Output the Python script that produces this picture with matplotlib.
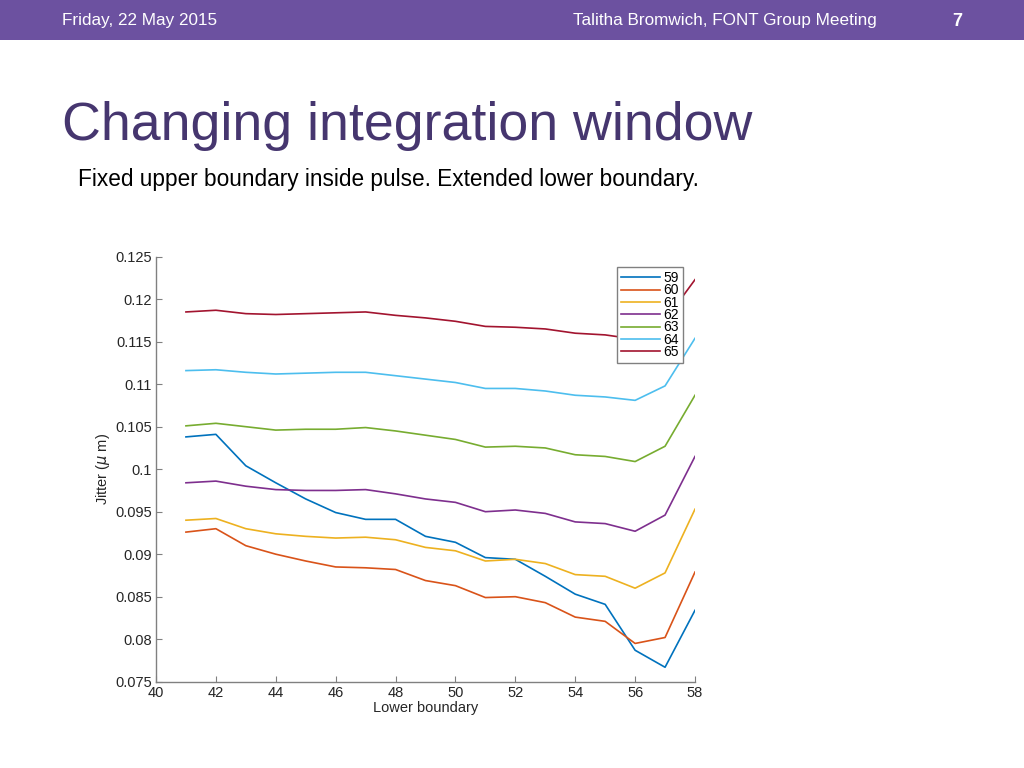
import numpy as np
import matplotlib
matplotlib.use('agg')
import matplotlib.pyplot as plt

plt.rcParams['font.family'] = ['Liberation Sans', 'DejaVu Sans']

## data
lower = [41, 42, 43, 44, 45, 46, 47, 48, 49, 50, 51, 52, 53, 54, 55, 56, 57, 58]
labels = ['59', '60', '61', '62', '63', '64', '65']
j59 = [0.1038, 0.1041, 0.1004, 0.0984, 0.0965, 0.0949, 0.0941, 0.0941, 0.0921,
       0.0914, 0.0896, 0.0894, 0.0874, 0.0853, 0.0841, 0.0787, 0.0767, 0.0834]
j60 = [0.0926, 0.0930, 0.0910, 0.0900, 0.0892, 0.0885, 0.0884, 0.0882, 0.0869,
       0.0863, 0.0849, 0.0850, 0.0843, 0.0826, 0.0821, 0.0795, 0.0802, 0.0879]
j61 = [0.0940, 0.0942, 0.0930, 0.0924, 0.0921, 0.0919, 0.0920, 0.0917, 0.0908,
       0.0904, 0.0892, 0.0894, 0.0889, 0.0876, 0.0874, 0.0860, 0.0878, 0.0953]
j62 = [0.0984, 0.0986, 0.0980, 0.0976, 0.0975, 0.0975, 0.0976, 0.0971, 0.0965,
       0.0961, 0.0950, 0.0952, 0.0948, 0.0938, 0.0936, 0.0927, 0.0946, 0.1015]
j63 = [0.1051, 0.1054, 0.1050, 0.1046, 0.1047, 0.1047, 0.1049, 0.1045, 0.1040,
       0.1035, 0.1026, 0.1027, 0.1025, 0.1017, 0.1015, 0.1009, 0.1027, 0.1087]
j64 = [0.1116, 0.1117, 0.1114, 0.1112, 0.1113, 0.1114, 0.1114, 0.1110, 0.1106,
       0.1102, 0.1095, 0.1095, 0.1092, 0.1087, 0.1085, 0.1081, 0.1098, 0.1154]
j65 = [0.1185, 0.1187, 0.1183, 0.1182, 0.1183, 0.1184, 0.1185, 0.1181, 0.1178,
       0.1174, 0.1168, 0.1167, 0.1165, 0.1160, 0.1158, 0.1153, 0.1175, 0.1223]
series = [j59, j60, j61, j62, j63, j64, j65]
# matlab default line colours
colors = ['#0072BD', '#D95319', '#EDB120', '#7E2F8E', '#77AC30', '#4DBEEE', '#A2142F']

fig = plt.figure(figsize=(10.24, 7.68), dpi=100)

# slide header bar
fig.patches.append(plt.Rectangle((0, 1 - 40/768.), 1, 40/768., transform=fig.transFigure,
                                 facecolor='#6c51a0', edgecolor='none', zorder=0))
fig.text(62/1024., 1 - 21/768., 'Friday, 22 May 2015', color='white', fontsize=12.3,
         va='center', ha='left')
fig.text(877/1024., 1 - 20/768., 'Talitha Bromwich, FONT Group Meeting', color='white',
         fontsize=12.3, va='center', ha='right')
fig.text(957/1024., 1 - 21/768., '7', color='white', fontsize=13, fontweight='bold',
         va='center', ha='center')

# title and subtitle
fig.text(62/1024., 1 - 140/768., 'Changing integration window', color='#46366f',
         fontsize=38.7, va='baseline', ha='left')
fig.text(78/1024., 1 - 186/768., 'Fixed upper boundary inside pulse. Extended lower boundary.',
         color='black', fontsize=16.3, va='baseline', ha='left')

# the matlab plot
ax = fig.add_axes([156/1024., 1 - 681.7/768., 539/1024., 425/768.])
for y, c, l in zip(series, colors, labels):
    ax.plot(lower, y, color=c, lw=1.2, label=l)

ax.set_xlim(40, 58)
ax.set_ylim(0.075, 0.125)
ax.set_xticks(np.arange(40, 59, 2))
ax.set_yticks(np.arange(0.075, 0.1251, 0.005))
ax.set_yticklabels(['0.075', '0.08', '0.085', '0.09', '0.095', '0.1', '0.105',
                    '0.11', '0.115', '0.12', '0.125'])
for s in ['top', 'right']:
    ax.spines[s].set_visible(False)
for s in ['left', 'bottom']:
    ax.spines[s].set_color('#808080')
    ax.spines[s].set_linewidth(1.0)
ax.tick_params(direction='in', length=4, color='#808080', labelsize=10.5,
               labelcolor='#262626', pad=3)
ax.set_xlabel('Lower boundary', fontsize=10.5, color='#262626', labelpad=1)
ax.set_ylabel(r'Jitter ($\mu$ m)', fontsize=10.5, color='#262626', labelpad=2)

leg = ax.legend(loc='upper right', bbox_to_anchor=(0.978, 0.976), fontsize=10,
                handlelength=2.8, handletextpad=0.25, labelspacing=-0.12,
                borderpad=0.3, borderaxespad=0, fancybox=False, framealpha=1)
leg.get_frame().set_edgecolor('#808080')
leg.get_frame().set_linewidth(1.0)

plt.savefig('out.png', dpi=100)
